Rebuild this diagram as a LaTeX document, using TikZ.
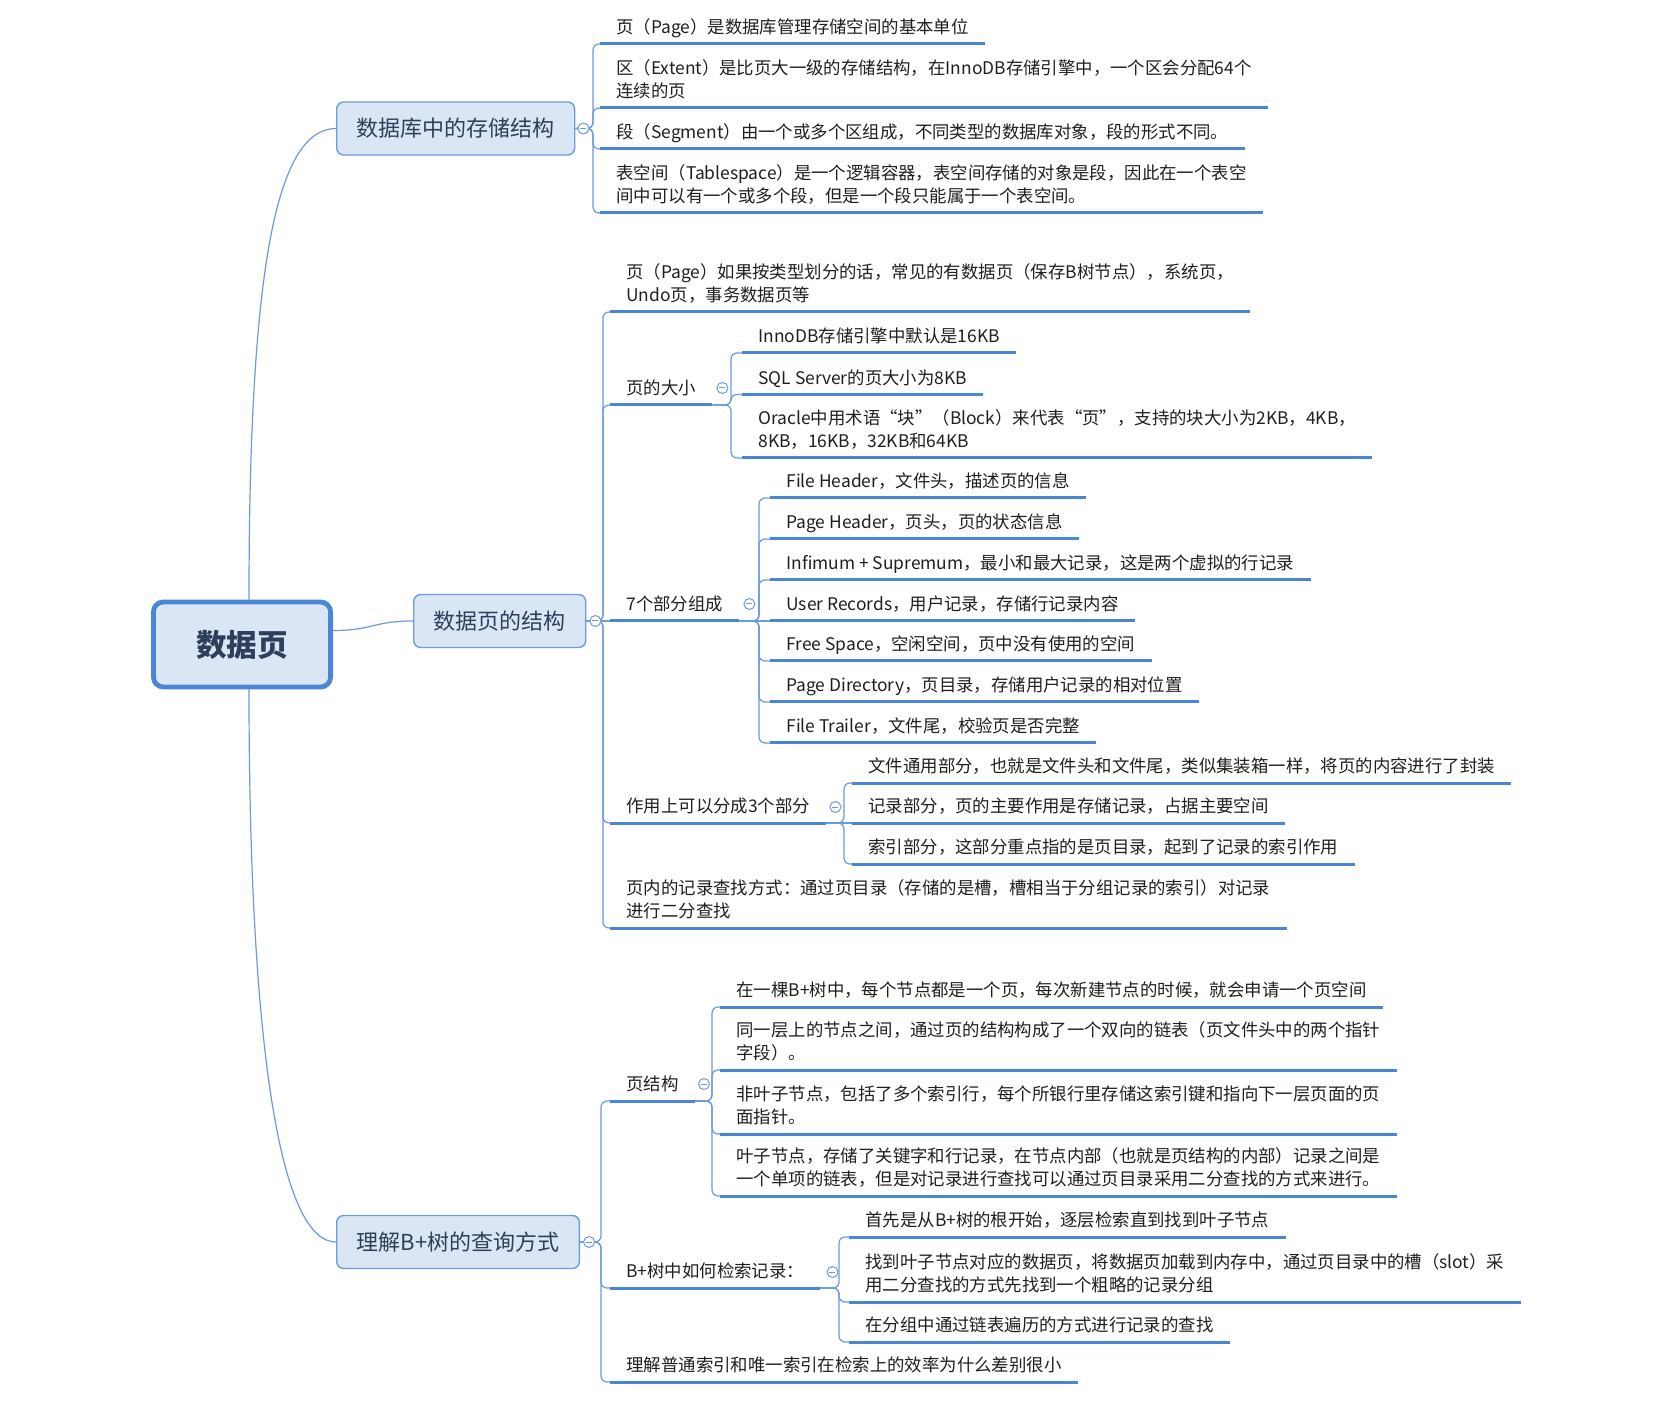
\documentclass[tikz,border=0pt]{standalone}
\usepackage{fontspec}
\newfontfamily\cjk{Noto Sans CJK SC}
\usetikzlibrary{calc,positioning}
\definecolor{linec}{HTML}{6B9BDD}
\definecolor{ulc}{HTML}{4A86D4}
\definecolor{boxfill}{HTML}{DBE6F4}
\definecolor{boxline}{HTML}{6C9CDB}
\definecolor{titlec}{HTML}{2D3F5A}
\definecolor{leafc}{HTML}{1F1F1F}

\begin{document}
\begin{tikzpicture}[
    x=0.5pt,y=-0.5pt,
    rootbox/.style={draw=ulc,fill=boxfill,line width=2.4pt,rounded corners=5pt,
      minimum width=88.6pt,minimum height=42.5pt,text=titlec,
      font=\cjk\bfseries\fontsize{15.3}{18}\selectfont},
    topic/.style={draw=boxline,fill=boxfill,line width=0.7pt,rounded corners=3.5pt,
      inner xsep=10pt,minimum height=26.5pt,text=titlec,
      font=\cjk\fontsize{11}{13}\selectfont},
    leaf/.style={anchor=south west,align=left,inner xsep=8pt,inner ysep=5pt,
      text depth=0pt,text=leafc,font=\cjk\fontsize{8.7}{11.5}\selectfont,
      append after command={(\tikzlastnode.south west) edge[uline] (\tikzlastnode.south east)}},
    uline/.style={draw=ulc,line width=1.5pt},
    conn/.style={draw=linec,line width=0.6pt,rounded corners=3pt},
    fold/.style={circle,draw=linec,fill=white,line width=0.5pt,inner sep=0pt,
      minimum size=5.5pt,
      path picture={\draw[linec,line width=0.5pt]
        ([xshift=-1.5pt]path picture bounding box.center) --
        ([xshift=1.5pt]path picture bounding box.center);}}
  ]
    \path[use as bounding box,fill=white] (0,0) rectangle (1654,1416);

    % root and main topics
    \node[rootbox] (root) at (242,644.5) {数据页};
    \node[topic,anchor=west] (store) at (336,128.5) {数据库中的存储结构};
    \node[topic,anchor=west] (layout) at (413,621) {数据页的结构};
    \node[topic,anchor=west] (query) at (336,1242) {理解B+树的查询方式};

    % storage structure
    \node[leaf] (store1) at (600,44) {页（Page）是数据库管理存储空间的基本单位};
    \node[leaf] (store2) at (600,108) {区（Extent）是比页大一级的存储结构，在InnoDB存储引擎中，一个区会分配64个\\连续的页};
    \node[leaf] (store3) at (600,149) {段（Segment）由一个或多个区组成，不同类型的数据库对象，段的形式不同。};
    \node[leaf] (store4) at (600,213) {表空间（Tablespace）是一个逻辑容器，表空间存储的对象是段，因此在一个表空\\间中可以有一个或多个段，但是一个段只能属于一个表空间。};

    % page structure
    \node[leaf] (lay1) at (610,312) {页（Page）如果按类型划分的话，常见的有数据页（保存B树节点），系统页，\\Undo页，事务数据页等};
    \node[leaf] (laysize) at (610,405) {页的大小};
    \node[leaf] (size1) at (742,353) {InnoDB存储引擎中默认是16KB};
    \node[leaf] (size2) at (742,394.5) {SQL Server的页大小为8KB};
    \node[leaf] (size3) at (742,458) {Oracle中用术语“块”（Block）来代表“页”，支持的块大小为2KB，4KB，\\8KB，16KB，32KB和64KB};
    \node[leaf] (layparts) at (610,621) {7个部分组成};
    \node[leaf] (part1) at (770,498) {File Header，文件头，描述页的信息};
    \node[leaf] (part2) at (770,539) {Page Header，页头，页的状态信息};
    \node[leaf] (part3) at (770,580) {Infimum + Supremum，最小和最大记录，这是两个虚拟的行记录};
    \node[leaf] (part4) at (770,621) {User Records，用户记录，存储行记录内容};
    \node[leaf] (part5) at (770,661) {Free Space，空闲空间，页中没有使用的空间};
    \node[leaf] (part6) at (770,702) {Page Directory，页目录，存储用户记录的相对位置};
    \node[leaf] (part7) at (770,743) {File Trailer，文件尾，校验页是否完整};
    \node[leaf] (layfunc) at (610,823) {作用上可以分成3个部分};
    \node[leaf] (func1) at (852,783) {文件通用部分，也就是文件头和文件尾，类似集装箱一样，将页的内容进行了封装};
    \node[leaf] (func2) at (852,823) {记录部分，页的主要作用是存储记录，占据主要空间};
    \node[leaf] (func3) at (852,864) {索引部分，这部分重点指的是页目录，起到了记录的索引作用};
    \node[leaf] (laysearch) at (610,928) {页内的记录查找方式：通过页目录（存储的是槽，槽相当于分组记录的索引）对记录\\进行二分查找};

    % B+ tree query
    \node[leaf] (qpage) at (610,1101) {页结构};
    \node[leaf] (qp1) at (720,1007) {在一棵B+树中，每个节点都是一个页，每次新建节点的时候，就会申请一个页空间};
    \node[leaf] (qp2) at (720,1070) {同一层上的节点之间，通过页的结构构成了一个双向的链表（页文件头中的两个指针\\字段）。};
    \node[leaf] (qp3) at (720,1134) {非叶子节点，包括了多个索引行，每个所银行里存储这索引键和指向下一层页面的页\\面指针。};
    \node[leaf] (qp4) at (720,1196) {叶子节点，存储了关键字和行记录，在节点内部（也就是页结构的内部）记录之间是\\一个单项的链表，但是对记录进行查找可以通过页目录采用二分查找的方式来进行。};
    \node[leaf] (qfind) at (610,1288) {B+树中如何检索记录：};
    \node[leaf] (qf1) at (849,1237) {首先是从B+树的根开始，逐层检索直到找到叶子节点};
    \node[leaf] (qf2) at (849,1302) {找到叶子节点对应的数据页，将数据页加载到内存中，通过页目录中的槽（slot）采\\用二分查找的方式先找到一个粗略的记录分组};
    \node[leaf] (qf3) at (849,1342) {在分组中通过链表遍历的方式进行记录的查找};
    \node[leaf] (qcmp) at (610,1382) {理解普通索引和唯一索引在检索上的效率为什么差别很小};

    % root links
    \draw[conn] ([xshift=3.5pt]root.north) .. controls +(0,-330) and +(-60,0) .. (store.west);
    \draw[conn] ([yshift=7pt]root.east) .. controls +(40,0) and +(-40,0) .. (layout.west);
    \draw[conn] ([xshift=3.5pt]root.south) .. controls +(0,330) and +(-60,0) .. (query.west);

    % storage links
    \draw[conn] (store.east) -| ([xshift=-3.5pt]store1.south west) -- (store1.south west);
    \draw[conn] (store.east) -| ([xshift=-3.5pt]store2.south west) -- (store2.south west);
    \draw[conn] (store.east) -| ([xshift=-3.5pt]store3.south west) -- (store3.south west);
    \draw[conn] (store.east) -| ([xshift=-3.5pt]store4.south west) -- (store4.south west);

    % page structure links
    \draw[conn] (layout.east) -| ([xshift=-3.5pt]lay1.south west) -- (lay1.south west);
    \draw[conn] (layout.east) -| ([xshift=-3.5pt]laysize.south west) -- (laysize.south west);
    \draw[conn] (layout.east) -- (layparts.south west);
    \draw[conn] (layout.east) -| ([xshift=-3.5pt]layfunc.south west) -- (layfunc.south west);
    \draw[conn] (layout.east) -| ([xshift=-3.5pt]laysearch.south west) -- (laysearch.south west);
    \draw[conn] (laysize.south east) -| ([xshift=-5.5pt]size1.south west) -- (size1.south west);
    \draw[conn] (laysize.south east) -| ([xshift=-5.5pt]size2.south west) -- (size2.south west);
    \draw[conn] (laysize.south east) -| ([xshift=-5.5pt]size3.south west) -- (size3.south west);
    \draw[conn] (layparts.south east) -| ([xshift=-5.5pt]part1.south west) -- (part1.south west);
    \draw[conn] (layparts.south east) -| ([xshift=-5.5pt]part2.south west) -- (part2.south west);
    \draw[conn] (layparts.south east) -| ([xshift=-5.5pt]part3.south west) -- (part3.south west);
    \draw[conn] (layparts.south east) -- (part4.south west);
    \draw[conn] (layparts.south east) -| ([xshift=-5.5pt]part5.south west) -- (part5.south west);
    \draw[conn] (layparts.south east) -| ([xshift=-5.5pt]part6.south west) -- (part6.south west);
    \draw[conn] (layparts.south east) -| ([xshift=-5.5pt]part7.south west) -- (part7.south west);
    \draw[conn] (layfunc.south east) -| ([xshift=-4pt]func1.south west) -- (func1.south west);
    \draw[conn] (layfunc.south east) -- (func2.south west);
    \draw[conn] (layfunc.south east) -| ([xshift=-4pt]func3.south west) -- (func3.south west);

    % B+ tree links
    \draw[conn] (query.east) -| ([xshift=-4.5pt]qpage.south west) -- (qpage.south west);
    \draw[conn] (query.east) -| ([xshift=-4.5pt]qfind.south west) -- (qfind.south west);
    \draw[conn] (query.east) -| ([xshift=-4.5pt]qcmp.south west) -- (qcmp.south west);
    \draw[conn] (qpage.south east) -| ([xshift=-4pt]qp1.south west) -- (qp1.south west);
    \draw[conn] (qpage.south east) -| ([xshift=-4pt]qp2.south west) -- (qp2.south west);
    \draw[conn] (qpage.south east) -| ([xshift=-4pt]qp3.south west) -- (qp3.south west);
    \draw[conn] (qpage.south east) -| ([xshift=-4pt]qp4.south west) -- (qp4.south west);
    \draw[conn] (qfind.south east) -| ([xshift=-5pt]qf1.south west) -- (qf1.south west);
    \draw[conn] (qfind.south east) -| ([xshift=-5pt]qf2.south west) -- (qf2.south west);
    \draw[conn] (qfind.south east) -| ([xshift=-5pt]qf3.south west) -- (qf3.south west);

    % fold buttons
    \node[fold] (storefold) at ($(store.east)+(8,0)$) {};
    \node[fold] (layfold) at ($(layout.east)+(9,0)$) {};
    \node[fold] (queryfold) at ($(query.east)+(9,0)$) {};
    \node[fold] (sizefold) at ($(laysize.south east)+(10,-17)$) {};
    \node[fold] (partsfold) at ($(layparts.south east)+(10,-17)$) {};
    \node[fold] (funcfold) at ($(layfunc.south east)+(9,-16)$) {};
    \node[fold] (qpagefold) at ($(qpage.south east)+(9,-17)$) {};
    \node[fold] (qfindfold) at ($(qfind.south east)+(12,-16)$) {};
  \end{tikzpicture}
\end{document}
